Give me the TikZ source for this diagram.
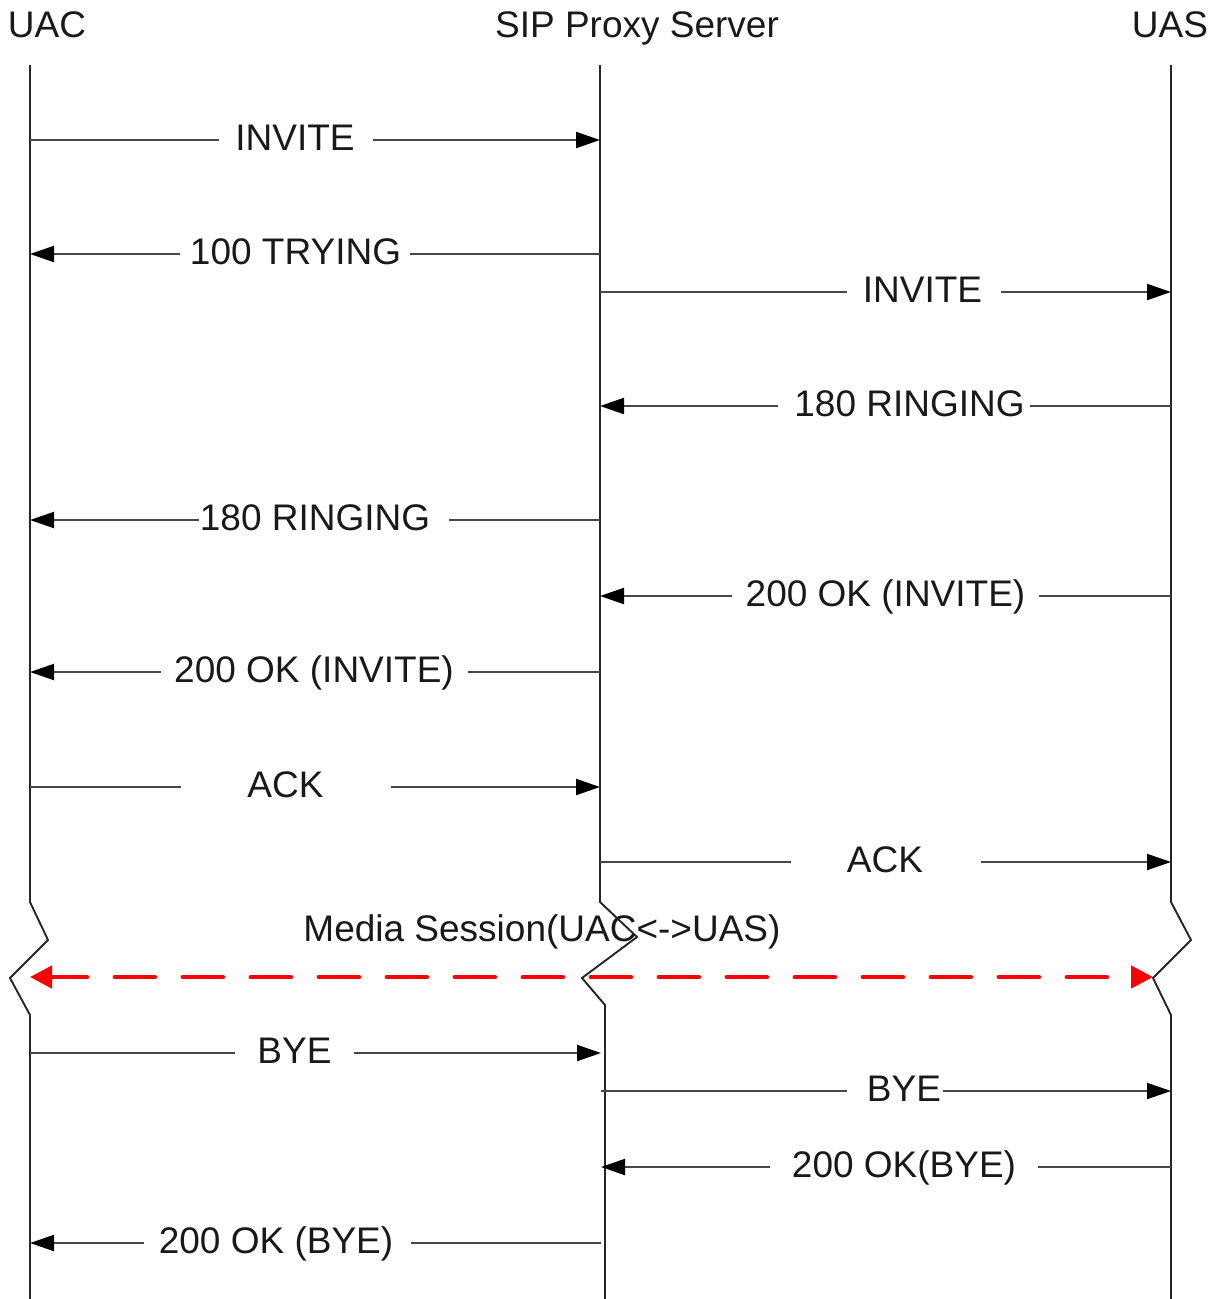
\documentclass[tikz,border=0pt]{standalone}
\usepackage{fontspec}
\setmainfont{Liberation Sans}
\usetikzlibrary{arrows.meta,calc}
\begin{document}
\begin{tikzpicture}[x=1pt,y=-1pt,
  line/.style={draw=black!72, line width=2pt},
  life/.style={draw=black!85, line width=1.9pt, line join=miter},
  msg/.style={line, -{Triangle[length=24pt,width=16pt,black]}},
  lbl/.style={font=\fontsize{37}{40}\selectfont, text=black!90, inner sep=0pt,
              text height=20pt, text depth=0pt, anchor=center},
  hdr/.style={font=\fontsize{37}{40}\selectfont, text=black!90, inner sep=0pt, anchor=base},
  media/.style={draw=red, line width=4.5pt, line cap=round,
                dash pattern=on 40pt off 28pt, dash phase=4pt,
                {Triangle[length=22pt,width=22pt]}-{Triangle[length=22pt,width=22pt]}},
]
\useasboundingbox (0,0) rectangle (1220,1299);

% lifeline x positions
\coordinate (uac) at (30,0);
\coordinate (proxy) at (600,0);
\coordinate (proxyL) at (601,0);
\coordinate (uas) at (1171,0);

% headers
\node[hdr] (hUAC) at (47,37) {UAC};
\node[hdr] (hProxy) at (637,37) {SIP Proxy Server};
\node[hdr] (hUAS) at (1170,37) {UAS};

% lifelines with break
\draw[life] (30,65) -- (30,902) -- (48,940) -- (10,978) -- (30,1015) -- (30,1299);
\draw[life] (600,65) -- (600,902) -- (637,937) -- (582,978) -- (605,1005) -- (605,1299);
\draw[life] (1171,65) -- (1171,902) -- (1191,940) -- (1153,978) -- (1171,1015) -- (1171,1299);

% 1 INVITE
\node[lbl] (m1) at (295,140) {INVITE};
\draw[line] (uac |- m1) -- ([xshift=-16pt]m1.west);
\draw[msg] ([xshift=18pt]m1.east) -- (proxy |- m1);
% 2 100 TRYING
\node[lbl] (m2) at (295.5,254) {100 TRYING};
\draw[line] (proxy |- m2) -- ([xshift=9pt]m2.east);
\draw[msg] ([xshift=-10pt]m2.west) -- (uac |- m2);
% 3 INVITE
\node[lbl] (m3) at (922.5,292) {INVITE};
\draw[line] (proxy |- m3) -- ([xshift=-16pt]m3.west);
\draw[msg] ([xshift=19pt]m3.east) -- (uas |- m3);
% 4 180 RINGING
\node[lbl] (m4) at (909.5,406) {180 RINGING};
\draw[line] (uas |- m4) -- ([xshift=5pt]m4.east);
\draw[msg] ([xshift=-16pt]m4.west) -- (proxy |- m4);
% 5 180 RINGING
\node[lbl] (m5) at (315,520) {180 RINGING};
\draw[line] (proxy |- m5) -- ([xshift=19pt]m5.east);
\draw[msg] ([xshift=-1pt]m5.west) -- (uac |- m5);
% 6 200 OK (INVITE)
\node[lbl] (m6) at (885.5,596) {200 OK (INVITE)};
\draw[line] (uas |- m6) -- ([xshift=13pt]m6.east);
\draw[msg] ([xshift=-13pt]m6.west) -- (proxy |- m6);
% 7 200 OK (INVITE)
\node[lbl] (m7) at (314,672) {200 OK (INVITE)};
\draw[line] (proxy |- m7) -- ([xshift=14pt]m7.east);
\draw[msg] ([xshift=-13pt]m7.west) -- (uac |- m7);
% 8 ACK
\node[lbl] (m8) at (285.5,787) {ACK};
\draw[line] (uac |- m8) -- ([xshift=-66pt]m8.west);
\draw[msg] ([xshift=67pt]m8.east) -- (proxy |- m8);
% 9 ACK
\node[lbl] (m9) at (885,862) {ACK};
\draw[line] (proxy |- m9) -- ([xshift=-56pt]m9.west);
\draw[msg] ([xshift=58pt]m9.east) -- (uas |- m9);

% media session
\node[hdr] (media) at (542,941) {Media Session(UAC<->UAS)};
\coordinate (mL) at (30,977);
\coordinate (mR) at (1153,977);
\draw[media] (mL) -- (mR);

% 11 BYE
\node[lbl] (m11) at (294.5,1053) {BYE};
\draw[line] (uac |- m11) -- ([xshift=-22pt]m11.west);
\draw[msg] ([xshift=22pt]m11.east) -- (proxyL |- m11);
% 12 BYE
\node[lbl] (m12) at (904,1091) {BYE};
\draw[line] (proxyL |- m12) -- ([xshift=-20pt]m12.west);
\draw[msg] ([xshift=2pt]m12.east) -- (uas |- m12);
% 13 200 OK(BYE)
\node[lbl] (m13) at (904,1167) {200 OK(BYE)};
\draw[line] (uas |- m13) -- ([xshift=22pt]m13.east);
\draw[msg] ([xshift=-22pt]m13.west) -- (proxyL |- m13);
% 14 200 OK (BYE)
\node[lbl] (m14) at (276,1243) {200 OK (BYE)};
\draw[line] (proxyL |- m14) -- ([xshift=18pt]m14.east);
\draw[msg] ([xshift=-15pt]m14.west) -- (uac |- m14);
\end{tikzpicture}
\end{document}
